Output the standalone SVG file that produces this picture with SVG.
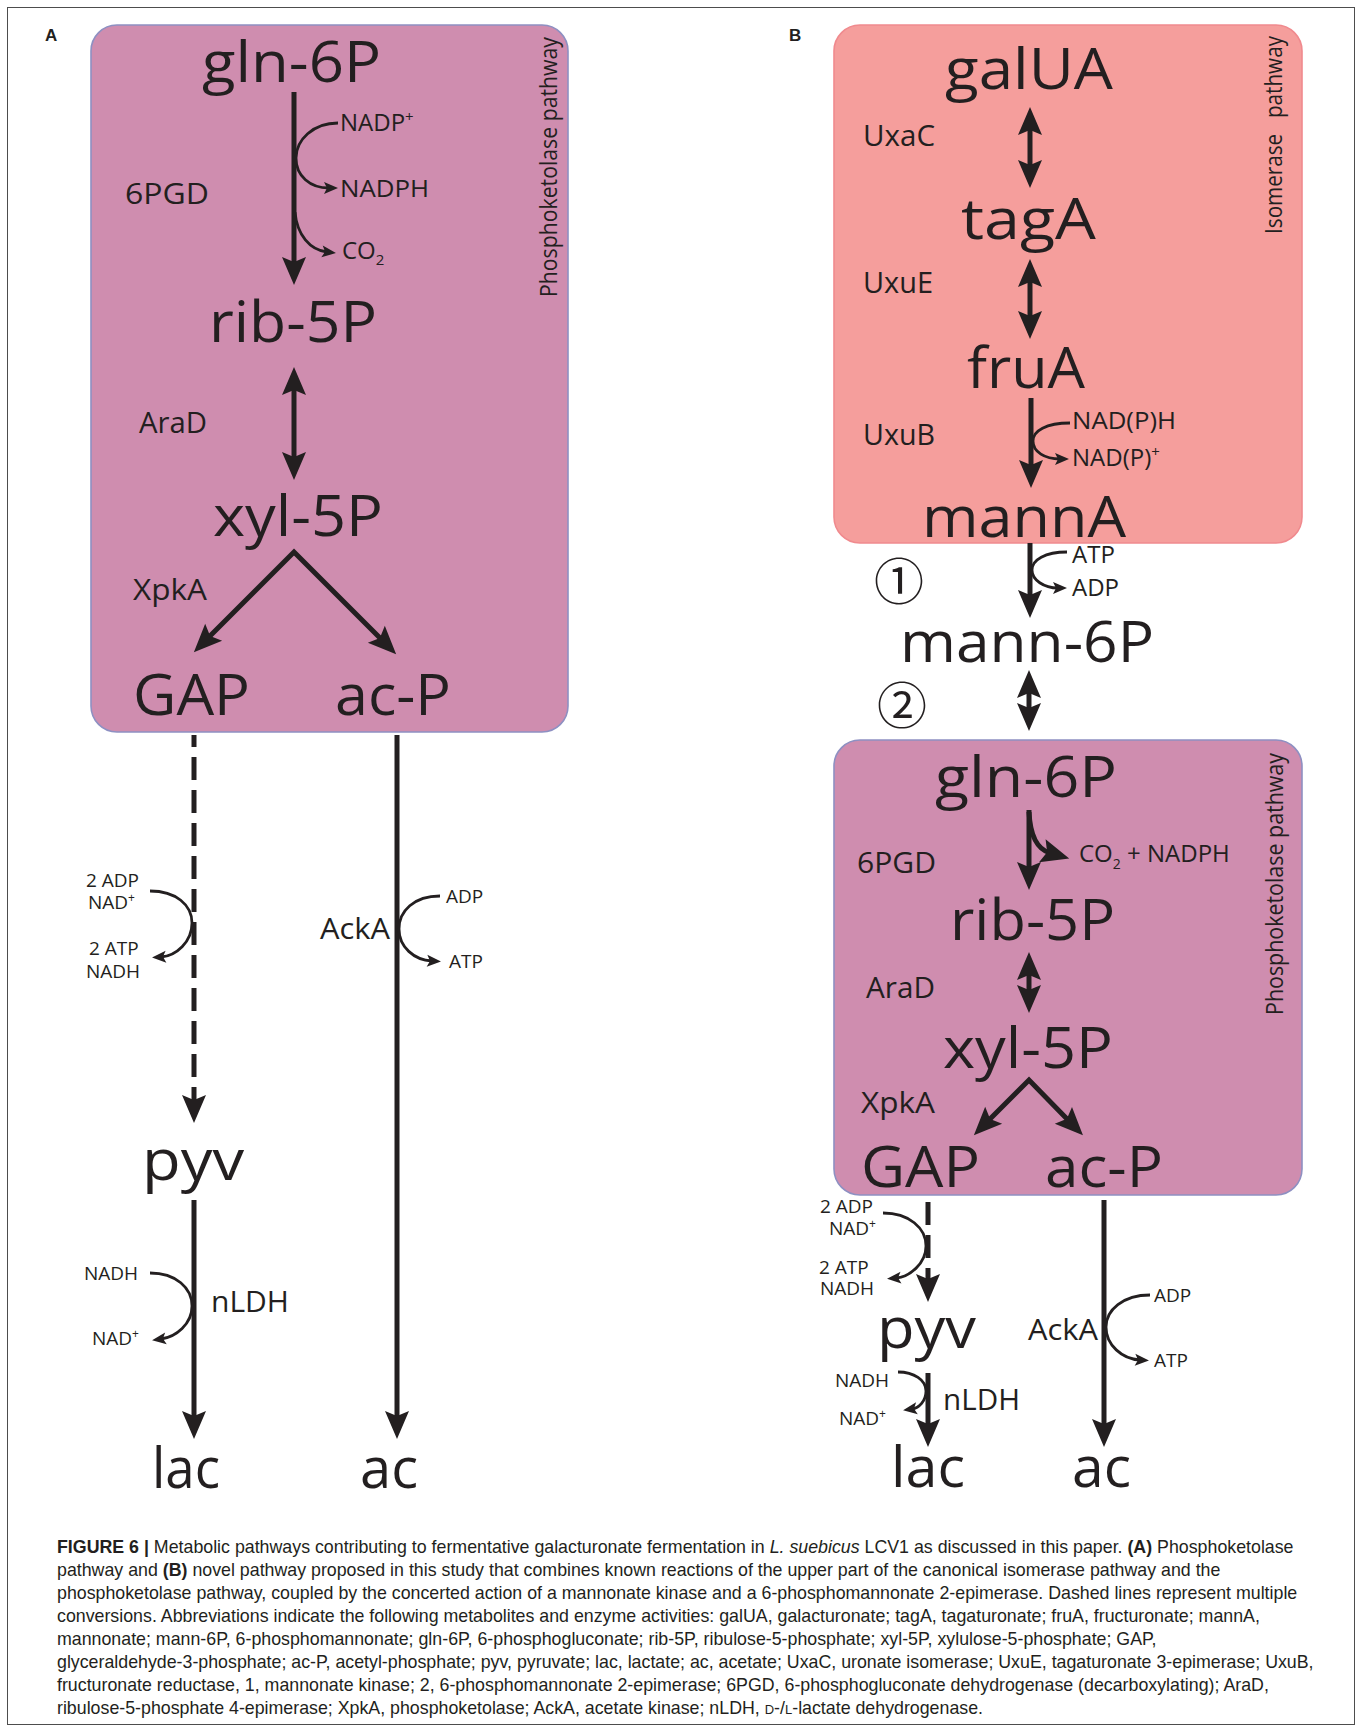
<svg xmlns="http://www.w3.org/2000/svg" width="1360" height="1731" viewBox="0 0 1360 1731">
<style>
text{font-family:"Open Sans","Noto Sans","DejaVu Sans",sans-serif;fill:#231F20}
.big{font-size:56px}
.enz{font-size:29px}
.cof{font-size:24px}
.sm{font-size:19px}
.vt{font-size:24px}
.lab{font-family:"Liberation Sans",Arial,sans-serif;font-weight:bold;font-size:17px}
.cap{font-family:"Liberation Sans",Arial,sans-serif;font-size:17.8px}
.ln{stroke:#231F20;stroke-width:5;fill:none}
.th{stroke:#231F20;stroke-width:2.8;fill:none}
.dash{stroke-dasharray:23 10}
.boxP{fill:#CF8DAF;stroke:#8E90C2;stroke-width:1.6}
.boxI{fill:#F59E9C;stroke:#F08A8E;stroke-width:1.6}
.num{font-family:"Noto Sans CJK JP","DejaVu Sans",sans-serif;font-size:50px}
</style>
<defs>
<marker id="ah" markerUnits="userSpaceOnUse" orient="auto-start-reverse" refX="0" refY="0" markerWidth="40" markerHeight="40" viewBox="-20 -20 40 40" overflow="visible">
<path d="M20,0 L-8,-12 L-3,0 L-8,12 Z" fill="#231F20"/>
</marker>
<marker id="as" markerUnits="userSpaceOnUse" orient="auto-start-reverse" refX="0" refY="0" markerWidth="20" markerHeight="20" viewBox="-10 -10 20 20" overflow="visible">
<path d="M9,0 L-5,-6 L-2,0 L-5,6 Z" fill="#231F20"/>
</marker>
</defs>
<rect x="7.5" y="7.5" width="1347" height="1717" fill="#fff" stroke="#4d4d4d" stroke-width="1"/>

<!-- Panel boxes -->
<g id="boxA"><rect class="boxP" x="91" y="25" width="477" height="707" rx="26"/></g>
<g id="boxIso"><rect class="boxI" x="834" y="25" width="468" height="518" rx="26"/></g>
<g id="boxB"><rect class="boxP" x="834" y="740" width="468" height="455" rx="26"/></g>

<g id="labelA"><text class="lab" x="45" y="41">A</text></g>
<g id="labelB"><text class="lab" x="789" y="41">B</text></g>

<!-- Connectors -->
<g id="connectors">
<!-- Panel A -->
<path class="ln" d="M294,92 V265" marker-end="url(#ah)"/>
<path class="th" d="M338,123 C313,123 296,140 296,158 C296,176 310,188 329,188" marker-end="url(#as)"/>
<path class="th" d="M295,212 C297,235 310,250 327,252" marker-end="url(#as)"/>
<path class="ln" d="M294,387 V460" marker-start="url(#ah)" marker-end="url(#ah)"/>
<path class="ln" d="M208,638 L294,552 L382,640" marker-start="url(#ah)" marker-end="url(#ah)"/>
<path class="ln dash" d="M194,735 V1103" stroke-dashoffset="11" marker-end="url(#ah)"/>
<path class="th" d="M150,891 C176,891 192,905 192,923 C192,942 176,956 161,957" marker-end="url(#as)"/>
<path class="ln" d="M397,735 V1419" marker-end="url(#ah)"/>
<path class="th" d="M440,896 C414,896 399,911 399,929 C399,947 414,960 432,961" marker-end="url(#as)"/>
<path class="ln" d="M194,1200 V1419" marker-end="url(#ah)"/>
<path class="th" d="M150,1273 C176,1273 192,1288 192,1306 C192,1324 176,1337 161,1339" marker-end="url(#as)"/>
<!-- Panel B -->
<path class="ln" d="M1030,127 V168" marker-start="url(#ah)" marker-end="url(#ah)"/>
<path class="ln" d="M1030,279 V319" marker-start="url(#ah)" marker-end="url(#ah)"/>
<path class="ln" d="M1031,398 V468" marker-end="url(#ah)"/>
<path class="th" d="M1070,423 C1046,423 1033,431 1033,441 C1033,452 1045,459 1060,459" marker-end="url(#as)"/>
<path class="ln" d="M1030,543 V598" marker-end="url(#ah)"/>
<path class="th" d="M1067,552 C1045,552 1032,560 1032,570 C1032,580 1044,588 1058,588" marker-end="url(#as)"/>
<path class="ln" d="M1029,690 V711" marker-start="url(#ah)" marker-end="url(#ah)"/>
<path class="ln" d="M1029,810 V870" marker-end="url(#ah)"/>
<path class="ln" d="M1029,812 C1030,832 1036,849 1050,853" marker-end="url(#ah)"/>
<path class="ln" d="M1029,972 V993" marker-start="url(#ah)" marker-end="url(#ah)"/>
<path class="ln" d="M988,1121 L1029,1080 L1069,1121" marker-start="url(#ah)" marker-end="url(#ah)"/>
<path class="ln dash" d="M928,1202 V1282" marker-end="url(#ah)"/>
<path class="th" d="M883,1213 C909,1213 926,1228 926,1246 C926,1264 909,1277 896,1278" marker-end="url(#as)"/>
<path class="ln" d="M1104,1200 V1427" marker-end="url(#ah)"/>
<path class="th" d="M1150,1295 C1123,1295 1106,1310 1106,1327 C1106,1345 1122,1359 1140,1360" marker-end="url(#as)"/>
<path class="ln" d="M928,1373 V1427" marker-end="url(#ah)"/>
<path class="th" d="M898,1372 C914,1372 926,1380 926,1391 C926,1401 919,1408 912,1409" marker-end="url(#as)"/>
</g>

<!-- Panel A nodes -->
<g id="A-gln6P"><text class="big" x="202" y="82" font-size="53" textLength="179" lengthAdjust="spacingAndGlyphs">gln-6P</text></g>
<g id="A-rib5P"><text class="big" x="209" y="342" font-size="55" textLength="168" lengthAdjust="spacingAndGlyphs">rib-5P</text></g>
<g id="A-xyl5P"><text class="big" x="213" y="536" font-size="52" textLength="170" lengthAdjust="spacingAndGlyphs">xyl-5P</text></g>
<g id="A-GAP"><text class="big" x="133" y="715" font-size="60" textLength="117" lengthAdjust="spacingAndGlyphs">GAP</text></g>
<g id="A-acP"><text class="big" x="335" y="715" font-size="59" textLength="116" lengthAdjust="spacingAndGlyphs">ac-P</text></g>
<g id="A-pyv"><text class="big" x="142" y="1180" font-size="61" textLength="102" lengthAdjust="spacingAndGlyphs">pyv</text></g>
<g id="A-lac"><text class="big" x="152" y="1488" font-size="60" textLength="68" lengthAdjust="spacingAndGlyphs">lac</text></g>
<g id="A-ac"><text class="big" x="360" y="1488" font-size="60" textLength="58" lengthAdjust="spacingAndGlyphs">ac</text></g>

<g id="A-enzymes">
<text class="enz" x="125" y="204" font-size="30" textLength="84" lengthAdjust="spacingAndGlyphs">6PGD</text>
<text class="enz" x="139" y="433" textLength="68" lengthAdjust="spacingAndGlyphs">AraD</text>
<text class="enz" x="133" y="600" textLength="74" lengthAdjust="spacingAndGlyphs">XpkA</text>
<text class="enz" x="320" y="939" textLength="70" lengthAdjust="spacingAndGlyphs">AckA</text>
<text class="enz" x="211" y="1312" textLength="78" lengthAdjust="spacingAndGlyphs">nLDH</text>
</g>
<g id="A-cofactors">
<text class="cof" x="340" y="131">NADP<tspan font-size="15" dy="-9">+</tspan></text>
<text class="cof" x="340" y="197" textLength="89" lengthAdjust="spacingAndGlyphs">NADPH</text>
<text class="cof" x="342" y="259">CO<tspan font-size="15" dy="6">2</tspan></text>
<text class="sm" x="86" y="887">2 ADP</text>
<text class="sm" x="88" y="909">NAD<tspan font-size="12" dy="-7">+</tspan></text>
<text class="sm" x="89" y="955">2 ATP</text>
<text class="sm" x="86" y="978">NADH</text>
<text class="sm" x="446" y="903">ADP</text>
<text class="sm" x="449" y="968">ATP</text>
<text class="sm" x="84" y="1280">NADH</text>
<text class="sm" x="92" y="1345">NAD<tspan font-size="12" dy="-7">+</tspan></text>
</g>
<g id="A-title"><text class="vt" transform="translate(557,297) rotate(-90)" x="0" y="0" textLength="260" lengthAdjust="spacingAndGlyphs">Phosphoketolase pathway</text></g>

<!-- Panel B nodes -->
<g id="B-galUA"><text class="big" x="945" y="89" font-size="62" textLength="168" lengthAdjust="spacingAndGlyphs">galUA</text></g>
<g id="B-tagA"><text class="big" x="961" y="239" font-size="64" textLength="135" lengthAdjust="spacingAndGlyphs">tagA</text></g>
<g id="B-fruA"><text class="big" x="967" y="388" font-size="63" textLength="118" lengthAdjust="spacingAndGlyphs">fruA</text></g>
<g id="B-mannA"><text class="big" x="922" y="537" font-size="64" textLength="204" lengthAdjust="spacingAndGlyphs">mannA</text></g>
<g id="B-mann6P"><text class="big" x="900" y="662" font-size="52" textLength="254" lengthAdjust="spacingAndGlyphs">mann-6P</text></g>
<g id="B-gln6P"><text class="big" x="935" y="797" font-size="60" textLength="182" lengthAdjust="spacingAndGlyphs">gln-6P</text></g>
<g id="B-rib5P"><text class="big" x="950" y="940" font-size="56" textLength="165" lengthAdjust="spacingAndGlyphs">rib-5P</text></g>
<g id="B-xyl5P"><text class="big" x="943" y="1068" font-size="53" textLength="170" lengthAdjust="spacingAndGlyphs">xyl-5P</text></g>
<g id="B-GAP"><text class="big" x="861" y="1187" font-size="59" textLength="119" lengthAdjust="spacingAndGlyphs">GAP</text></g>
<g id="B-acP"><text class="big" x="1045" y="1187" font-size="59" textLength="118" lengthAdjust="spacingAndGlyphs">ac-P</text></g>
<g id="B-pyv"><text class="big" x="877" y="1348" font-size="58" textLength="99" lengthAdjust="spacingAndGlyphs">pyv</text></g>
<g id="B-lac"><text class="big" x="891" y="1487" font-size="59" textLength="74" lengthAdjust="spacingAndGlyphs">lac</text></g>
<g id="B-ac"><text class="big" x="1072" y="1487" font-size="59" textLength="59" lengthAdjust="spacingAndGlyphs">ac</text></g>

<g id="B-enzymes">
<text class="enz" x="863" y="146" font-size="32" textLength="72" lengthAdjust="spacingAndGlyphs">UxaC</text>
<text class="enz" x="863" y="293" font-size="32" textLength="70" lengthAdjust="spacingAndGlyphs">UxuE</text>
<text class="enz" x="863" y="445" font-size="32" textLength="72" lengthAdjust="spacingAndGlyphs">UxuB</text>
<text class="enz" x="857" y="873" font-size="28" textLength="79" lengthAdjust="spacingAndGlyphs">6PGD</text>
<text class="enz" x="866" y="998" font-size="30" textLength="69" lengthAdjust="spacingAndGlyphs">AraD</text>
<text class="enz" x="861" y="1113" font-size="30" textLength="74" lengthAdjust="spacingAndGlyphs">XpkA</text>
<text class="enz" x="1028" y="1340" font-size="28" textLength="70" lengthAdjust="spacingAndGlyphs">AckA</text>
<text class="enz" x="943" y="1410" font-size="30" textLength="77" lengthAdjust="spacingAndGlyphs">nLDH</text>
</g>
<g id="B-steps">
<text class="num" x="899" y="578" text-anchor="middle" dominant-baseline="central">①</text>
<text class="num" x="902" y="702" text-anchor="middle" dominant-baseline="central">②</text>
</g>
<g id="B-cofactors">
<text class="cof" x="1072" y="429" textLength="104" lengthAdjust="spacingAndGlyphs">NAD(P)H</text>
<text class="cof" x="1072" y="466">NAD(P)<tspan font-size="15" dy="-9">+</tspan></text>
<text class="cof" x="1072" y="563" font-size="21">ATP</text>
<text class="cof" x="1072" y="596" font-size="21">ADP</text>
<text class="cof" x="1079" y="862" font-size="23">CO<tspan font-size="14" dy="7">2</tspan><tspan dy="-7"> + NADPH</tspan></text>
<text class="sm" x="820" y="1213">2 ADP</text>
<text class="sm" x="829" y="1235">NAD<tspan font-size="12" dy="-7">+</tspan></text>
<text class="sm" x="819" y="1274">2 ATP</text>
<text class="sm" x="820" y="1295">NADH</text>
<text class="sm" x="1154" y="1302">ADP</text>
<text class="sm" x="1154" y="1367">ATP</text>
<text class="sm" x="835" y="1387">NADH</text>
<text class="sm" x="839" y="1425">NAD<tspan font-size="12" dy="-7">+</tspan></text>
</g>
<g id="B-titles">
<text class="vt" transform="translate(1282,234) rotate(-90)" x="0" y="0" word-spacing="12" textLength="198" lengthAdjust="spacingAndGlyphs">Isomerase pathway</text>
<text class="vt" transform="translate(1283,1015) rotate(-90)" x="0" y="0" textLength="262" lengthAdjust="spacingAndGlyphs">Phosphoketolase pathway</text>
</g>

<!-- Caption -->
<g id="caption">
<text class="cap" x="57" y="1553"><tspan font-weight="bold">FIGURE 6 |</tspan> Metabolic pathways contributing to fermentative galacturonate fermentation in <tspan font-style="italic">L. suebicus</tspan> LCV1 as discussed in this paper. <tspan font-weight="bold">(A)</tspan> Phosphoketolase</text>
<text class="cap" x="57" y="1576">pathway and <tspan font-weight="bold">(B)</tspan> novel pathway proposed in this study that combines known reactions of the upper part of the canonical isomerase pathway and the</text>
<text class="cap" x="57" y="1599">phosphoketolase pathway, coupled by the concerted action of a mannonate kinase and a 6-phosphomannonate 2-epimerase. Dashed lines represent multiple</text>
<text class="cap" x="57" y="1622">conversions. Abbreviations indicate the following metabolites and enzyme activities: galUA, galacturonate; tagA, tagaturonate; fruA, fructuronate; mannA,</text>
<text class="cap" x="57" y="1645">mannonate; mann-6P, 6-phosphomannonate; gln-6P, 6-phosphogluconate; rib-5P, ribulose-5-phosphate; xyl-5P, xylulose-5-phosphate; GAP,</text>
<text class="cap" x="57" y="1668">glyceraldehyde-3-phosphate; ac-P, acetyl-phosphate; pyv, pyruvate; lac, lactate; ac, acetate; UxaC, uronate isomerase; UxuE, tagaturonate 3-epimerase; UxuB,</text>
<text class="cap" x="57" y="1691">fructuronate reductase, 1, mannonate kinase; 2, 6-phosphomannonate 2-epimerase; 6PGD, 6-phosphogluconate dehydrogenase (decarboxylating); AraD,</text>
<text class="cap" x="57" y="1714">ribulose-5-phosphate 4-epimerase; XpkA, phosphoketolase; AckA, acetate kinase; nLDH, <tspan font-size="13">D</tspan>-/<tspan font-size="13">L</tspan>-lactate dehydrogenase.</text>
</g>
</svg>
